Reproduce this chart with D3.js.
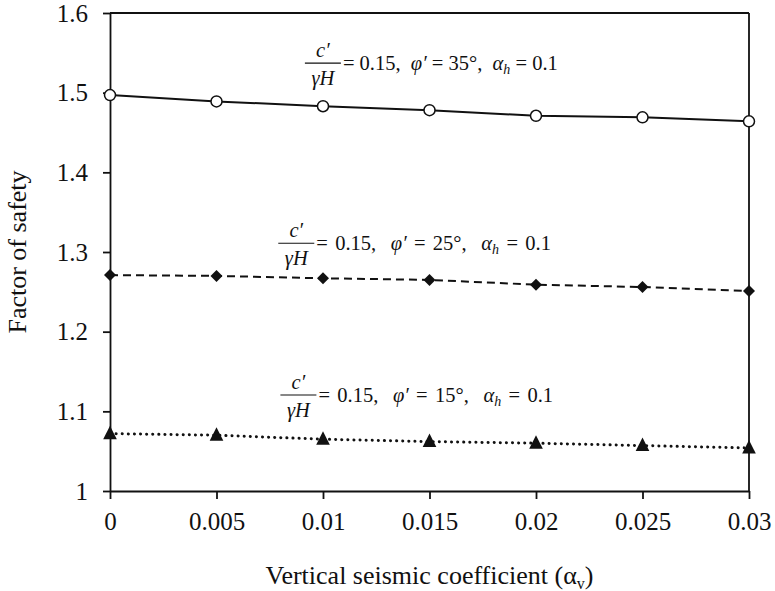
<!DOCTYPE html>
<html>
<head>
<meta charset="utf-8">
<script src="https://cdn.jsdelivr.net/npm/d3@7"></script>
<style>
  body { margin: 0; background: #fff; }
  svg, svg text { font-family: "Liberation Serif", "Times New Roman", Times, "DejaVu Serif", serif !important; }
</style>
</head>
<body>
<div id="chart"></div>
<script>
// vertical seismic coefficient on x, factor of safety on y
const coeffs = [0, 0.005, 0.01, 0.015, 0.02, 0.025, 0.03];
const fsPhi35 = [1.497, 1.489, 1.483, 1.478, 1.471, 1.469, 1.464];
const fsPhi25 = [1.271, 1.270, 1.267, 1.265, 1.259, 1.256, 1.251];
const fsPhi15 = [1.072, 1.070, 1.065, 1.062, 1.060, 1.057, 1.054];
const phiValues = [35, 25, 15];
const xTickLabels = ["0", "0.005", "0.01", "0.015", "0.02", "0.025", "0.03"];
const yTickLabels = ["1", "1.1", "1.2", "1.3", "1.4", "1.5", "1.6"];

const margin = {top: 13, right: 26, bottom: 100, left: 110},
      width = 775 - margin.left - margin.right,
      height = 591 - margin.top - margin.bottom;

const svg = d3.select("#chart").append("svg")
    .attr("width", 775)
    .attr("height", 591);
const g = svg.append("g")
    .attr("transform", "translate(" + margin.left + "," + margin.top + ")");

const x = d3.scaleLinear().domain([0, 0.03]).range([0, width]);
const y = d3.scaleLinear().domain([1, 1.6]).range([height, 0]);

// axes
const xAxis = g.append("g")
    .attr("transform", "translate(0," + height + ")")
    .call(d3.axisBottom(x)
      .tickValues(xTickLabels.map(Number))
      .tickFormat((d, i) => xTickLabels[i])
      .tickSize(8).tickSizeOuter(0).tickPadding(13));
const yAxis = g.append("g")
    .call(d3.axisLeft(y)
      .tickValues(yTickLabels.map(Number))
      .tickFormat((d, i) => yTickLabels[i])
      .tickSize(7).tickSizeOuter(0).tickPadding(15));
[xAxis, yAxis].forEach(a => {
  a.attr("font-family", null).attr("font-size", 25);
  a.selectAll("path, line").attr("stroke", "#111").attr("stroke-width", 1.8);
  a.selectAll("text").style("font-size", "25px").attr("fill", "#111");
});

// box top / right
g.append("line").attr("x1", 0).attr("x2", width).attr("y1", 0).attr("y2", 0)
  .attr("stroke", "#111").attr("stroke-width", 1.8);
g.append("line").attr("x1", width).attr("x2", width).attr("y1", 0).attr("y2", height)
  .attr("stroke", "#111").attr("stroke-width", 1.8);

const line = d3.line().x((d, i) => x(coeffs[i])).y(d => y(d));

g.append("path").datum(fsPhi35).attr("d", line)
  .attr("fill", "none").attr("stroke", "#111").attr("stroke-width", 2);
g.append("path").datum(fsPhi25).attr("d", line)
  .attr("fill", "none").attr("stroke", "#111").attr("stroke-width", 2)
  .attr("stroke-dasharray", "8,5");
g.append("path").datum(fsPhi15).attr("d", line)
  .attr("fill", "none").attr("stroke", "#111").attr("stroke-width", 3)
  .attr("stroke-linecap", "round").attr("stroke-dasharray", "0.1,6");

// markers
g.selectAll(".circ").data(fsPhi35).enter().append("circle")
  .attr("cx", (d, i) => x(coeffs[i])).attr("cy", d => y(d)).attr("r", 5.5)
  .attr("fill", "#fff").attr("stroke", "#111").attr("stroke-width", 1.5);
g.selectAll(".diam").data(fsPhi25).enter().append("path")
  .attr("d", d3.symbol(d3.symbolSquare, 72)())
  .attr("transform", (d, i) => "translate(" + x(coeffs[i]) + "," + y(d) + ") rotate(45)")
  .attr("fill", "#111");
g.selectAll(".tri").data(fsPhi15).enter().append("path")
  .attr("d", "M0,-8L6.8,5.5L-6.8,5.5Z")
  .attr("transform", (d, i) => "translate(" + x(coeffs[i]) + "," + y(d) + ")")
  .attr("fill", "#111");

// annotations: anchor (start of fraction bar) in data units
const labelAt = [[0.00915, 1.537], [0.0079, 1.311], [0.008, 1.1205]];
labelAt.forEach((p, k) => {
  const x0 = x(p[0]), yb = y(p[1]);
  const a = g.append("g").attr("transform", "translate(" + x0 + "," + yb + ")")
    .style("font-size", "20.5px").attr("fill", "#111");
  a.append("line").attr("x1", 0).attr("x2", 36).attr("stroke", "#111").attr("stroke-width", 1.2);
  a.append("text").attr("x", 18).attr("y", -6).attr("text-anchor", "middle")
    .attr("font-style", "italic").text("c\u2032");
  a.append("text").attr("x", 18).attr("y", 22).attr("text-anchor", "middle")
    .attr("font-style", "italic").text("\u03b3H");
  const t = a.append("text").attr("x", 38).attr("y", 7).attr("xml:space", "preserve")
    .attr("word-spacing", k === 0 ? 0 : 2.2);
  t.append("tspan").text("= 0.15,  ");
  t.append("tspan").attr("font-style", "italic").text("\u03c6\u2032");
  t.append("tspan").text(" = " + phiValues[k] + "\u00b0,  ");
  t.append("tspan").attr("font-style", "italic").text("\u03b1");
  t.append("tspan").attr("font-style", "italic").style("font-size", "14px").attr("dy", 4).text("h");
  t.append("tspan").attr("dy", -4).text(" = 0.1");
});

// axis titles
const xt = svg.append("text")
  .attr("x", margin.left + width / 2).attr("y", 584)
  .attr("text-anchor", "middle").attr("font-size", 26).attr("fill", "#111");
xt.append("tspan").text("Vertical seismic coefficient (\u03b1");
xt.append("tspan").attr("font-size", 16).attr("dy", 5).text("v");
xt.append("tspan").attr("dy", -5).text(")");

svg.append("text")
  .attr("transform", "translate(26," + (margin.top + height / 2) + ") rotate(-90)")
  .attr("text-anchor", "middle").attr("font-size", 26).attr("fill", "#111")
  .text("Factor of safety");
</script>
</body>
</html>
